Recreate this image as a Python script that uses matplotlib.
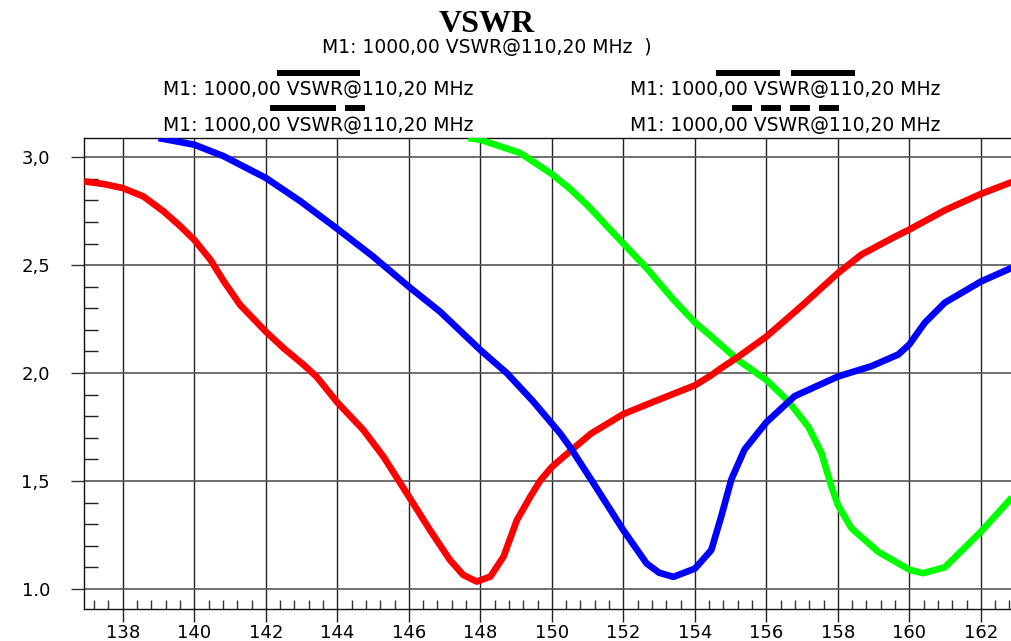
import matplotlib
matplotlib.use('Agg')
from matplotlib import pyplot as plt
from matplotlib.lines import Line2D
from matplotlib.ticker import MultipleLocator, FixedLocator, FixedFormatter

# Red trace: frequency (MHz) and VSWR
red_f = [136.92, 137.46, 138.0, 138.58, 139.14, 139.61, 140.0, 140.45, 140.83, 141.28,
         142.0, 142.5, 143.06, 143.42, 144.0, 144.73, 145.29, 146.0, 146.59, 147.15,
         147.52, 147.9, 148.28, 148.65, 149.02, 149.4, 149.68, 150.0, 150.51, 151.1,
         152.0, 152.83, 154.0, 154.46, 154.71, 155.21, 156.0, 156.98, 158.0, 158.66,
         159.6, 160.0, 161.0, 162.0, 162.87]
red_v = [2.888, 2.876, 2.857, 2.818, 2.749, 2.68, 2.617, 2.525, 2.424, 2.316,
         2.192, 2.115, 2.038, 1.983, 1.864, 1.736, 1.613, 1.428, 1.273, 1.134,
         1.065, 1.034, 1.057, 1.15, 1.318, 1.428, 1.503, 1.565, 1.638, 1.72,
         1.81, 1.866, 1.943, 1.99, 2.02, 2.075, 2.169, 2.31, 2.463, 2.549,
         2.632, 2.665, 2.755, 2.83, 2.885]

# Blue trace
blue_f = [139.0, 140.0, 140.83, 142.0, 142.96, 144.0, 145.0, 146.0, 146.87, 148.0,
          148.74, 149.48, 150.23, 150.51, 151.17, 152.0, 152.65, 153.0, 153.4, 154.0,
          154.46, 154.74, 155.02, 155.39, 156.0, 156.79, 158.0, 158.94, 159.69, 160.0,
          160.43, 160.99, 162.0, 162.87]
blue_v = [3.089, 3.058, 3.004, 2.904, 2.797, 2.668, 2.54, 2.40, 2.285, 2.107,
          2.0, 1.868, 1.721, 1.657, 1.488, 1.272, 1.118, 1.075, 1.056, 1.094,
          1.18, 1.337, 1.507, 1.646, 1.772, 1.893, 1.984, 2.032, 2.086, 2.133,
          2.233, 2.326, 2.424, 2.488]

# Green trace
green_f = [147.66, 148.0, 149.11, 150.0, 150.5, 150.98, 152.0, 152.65, 153.39, 154.0,
           154.46, 155.21, 156.0, 156.61, 157.17, 157.54, 157.82, 158.0, 158.38, 159.13,
           160.0, 160.38, 160.99, 162.0, 162.87]
green_v = [3.089, 3.081, 3.02, 2.922, 2.855, 2.78, 2.60, 2.486, 2.342, 2.235,
           2.17, 2.06, 1.968, 1.87, 1.752, 1.63, 1.474, 1.389, 1.281, 1.172,
           1.089, 1.073, 1.10, 1.265, 1.424]

x_ticks = [138, 140, 142, 144, 146, 148, 150, 152, 154, 156, 158, 160, 162]
y_ticks = [1.0, 1.5, 2.0, 2.5, 3.0]
y_labels = ['1.0', '1,5', '2,0', '2,5', '3,0']

title = 'VSWR'
subtitle = 'M1: 1000,00 VSWR@110,20 MHz  )'
legend_text = 'M1: 1000,00 VSWR@110,20 MHz'

W, H = 1012, 641
fig = plt.figure(figsize=(W / 100, H / 100), dpi=100)
ax = fig.add_axes([84 / W, 1 - 609 / H, 1 - 84 / W, (609 - 138) / H])

# Grid lines first so the curves sit on top
for x in x_ticks:
    ax.axvline(x, color='#222222', lw=1.0, zorder=1)
for y in y_ticks:
    ax.axhline(y, color='#555555', lw=1.2, zorder=1)

style = dict(lw=4.8, solid_capstyle='butt', solid_joinstyle='round')
ax.plot(green_f, green_v, color='#00ff00', zorder=3, **style)
ax.plot(red_f, red_v, color='#ff0000', zorder=4, **style)
ax.plot(blue_f, blue_v, color='#0000ff', zorder=5, **style)

ax.set_xlim(136.915, 162.87)
ax.set_ylim(0.907, 3.089)

ax.xaxis.set_major_locator(FixedLocator(x_ticks))
ax.xaxis.set_minor_locator(MultipleLocator(0.4))
ax.yaxis.set_major_locator(FixedLocator(y_ticks))
ax.yaxis.set_major_formatter(FixedFormatter(y_labels))
ax.yaxis.set_minor_locator(MultipleLocator(0.1))

ax.tick_params(axis='x', which='major', direction='out', length=9.5, width=1,
               labelsize=13, pad=1.5, color='#222222')
ax.tick_params(axis='x', which='minor', direction='in', length=6.5, width=1, color='#333333')
ax.tick_params(axis='y', which='major', direction='out', length=9.5, width=1,
               labelsize=13, pad=15, color='#333333')
ax.tick_params(axis='y', which='minor', direction='in', length=10, width=1, color='#222222')

ax.spines['right'].set_visible(False)
for s in ['left', 'top', 'bottom']:
    ax.spines[s].set_color('#111111')
    ax.spines[s].set_linewidth(1.0)

# Titles
fig.text(487 / W, 1 - 24 / H, title, family='Liberation Serif', weight='bold',
         size=23, ha='center', va='center')
fig.text(487 / W, 1 - 48 / H, subtitle, size=13.5, ha='center', va='center')

# Legend: text rows with line-style samples above each entry
for cx, cy in [(318, 90), (785, 90), (318, 125), (785, 125)]:
    fig.text(cx / W, 1 - cy / H, legend_text, size=13.5, ha='center', va='center')

legend_segments = [
    [(277, 360)],
    [(716, 780), (791, 855)],
    [(270, 336), (345, 365)],
    [(732, 752), (761, 781), (790, 810), (819, 839)],
]
legend_rows = [73, 73, 108, 108]
for segs, yy in zip(legend_segments, legend_rows):
    for x0, x1 in segs:
        fig.add_artist(Line2D([x0 / W, x1 / W], [1 - yy / H, 1 - yy / H],
                              transform=fig.transFigure, color='black', lw=4.3,
                              solid_capstyle='butt'))

fig.savefig('out.png', dpi=100)
